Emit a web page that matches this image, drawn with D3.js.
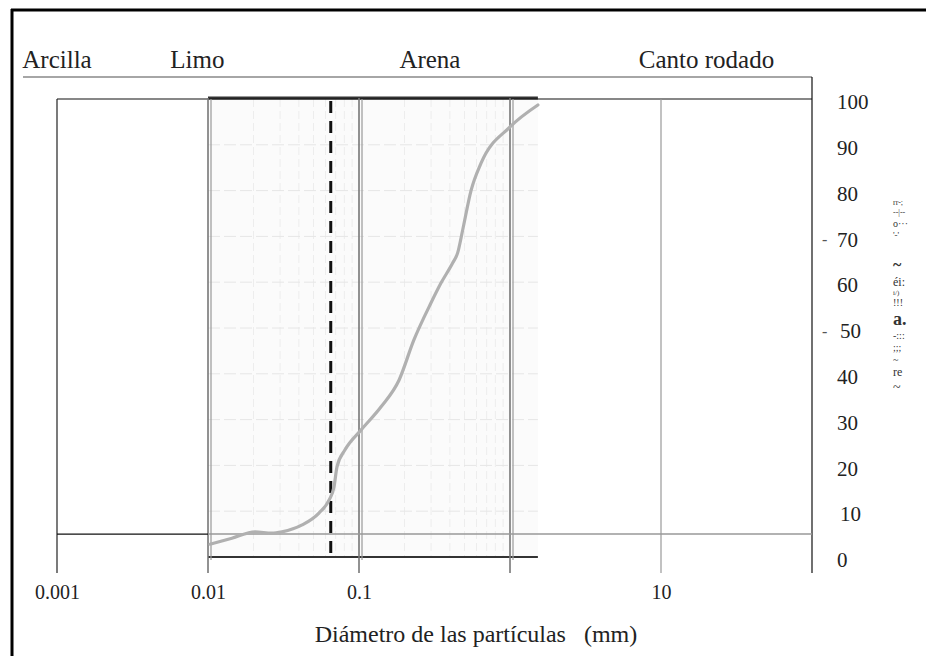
<!DOCTYPE html>
<html>
<head>
<meta charset="utf-8">
<script src="https://cdn.jsdelivr.net/npm/d3@7"></script>
<style>
  body { margin: 0; background: #fff; }
  svg { display: block; font-family: "Liberation Serif", "Times New Roman", serif; }
</style>
</head>
<body>
<div id="viz"></div>
<script>
// Size classes written across the top (centre of each name, in mm)
const classNames = ["Arcilla", "Limo", "Arena", "Canto rodado"];
const classCentres = [0.001, 0.0085, 0.295, 20];

// Log x axis (mm)
const decadeLines = [0.001, 0.01, 0.1, 1, 10, 100];
const xTickValues = [0.001, 0.01, 0.1, 10];
const xTickLabels = ["0.001", "0.01", "0.1", "10"];

// Right-hand percent axis
const yTickValues = [0, 10, 20, 30, 40, 50, 60, 70, 80, 90, 100];
const dashedTicks = [70, 50];

// Grading curve: diameter (mm) vs percent passing
const diameter = [0.0103, 0.0144, 0.0205, 0.0265, 0.0309, 0.042, 0.0543, 0.0633, 0.0683, 0.0715,
  0.0808, 0.103, 0.14, 0.184, 0.231, 0.3, 0.349, 0.417, 0.45, 0.486, 0.553, 0.643, 1.0, 1.53];
const passing = [2.8, 4.1, 5.5, 5.2, 5.5, 7.0, 9.6, 12.4, 15.3, 19.7,
  23.4, 27.7, 32.8, 38.6, 47.4, 55.5, 59.8, 64.2, 66.4, 71.4, 80.1, 86.0, 93.9, 98.7];

const dashedDiameter = 0.065;      // vertical dashed marker
const insetExtent = [0.01, 1.53];  // scanned graph strip
const baseLinePercent = 5;

// Scanned-in side label (kept as read)
const sideText = ["rr-;", "--|--", "o···", "'-'", "~", "éi:", "i/)", "!!!", "a.", "-:::", ";;;", "~", "re", "~"];
const sidePercent = [77.3, 75.1, 72.7, 70.3, 63.8, 60.0, 57.6, 55.5, 51.9, 48.3, 45.6, 43.0, 40.2, 36.9];
const sideSize = [8, 8, 10, 9, 16, 12, 7, 10, 18, 10, 10, 10, 12, 14];

const W = 926, H = 656;

const svg = d3.select("#viz").append("svg")
  .attr("width", W).attr("height", H)
  .attr("viewBox", `0 0 ${W} ${H}`);

const x = d3.scaleLog().domain([0.001, 100]).range([57, 812]);
const y = d3.scaleLinear().domain([0, 100]).range([557, 99]);

const lineBottom = 573;

// outer frame (top and left)
svg.append("line").attr("x1", 11).attr("x2", W).attr("y1", 10).attr("y2", 10)
  .attr("stroke", "#000").attr("stroke-width", 3);
svg.append("line").attr("x1", 12).attr("x2", 12).attr("y1", 9).attr("y2", H)
  .attr("stroke", "#000").attr("stroke-width", 3);

// class names
svg.append("g").selectAll("text")
  .data(classNames)
  .join("text")
  .attr("x", (d, i) => x(classCentres[i]))
  .attr("y", 68)
  .attr("text-anchor", "middle")
  .attr("font-size", 25)
  .attr("fill", "#222")
  .text(d => d);

// header rule + right frame
svg.append("line").attr("x1", 23).attr("x2", x(100)).attr("y1", 77).attr("y2", 77)
  .attr("stroke", "#888").attr("stroke-width", 1.5);
svg.append("line").attr("x1", x(100)).attr("x2", x(100)).attr("y1", 77).attr("y2", lineBottom)
  .attr("stroke", "#111").attr("stroke-width", 1.2);

// inset (scanned graph)
const inset = svg.append("g");
inset.append("rect")
  .attr("x", x(insetExtent[0])).attr("y", y(100))
  .attr("width", x(insetExtent[1]) - x(insetExtent[0]))
  .attr("height", y(0) - y(100))
  .attr("fill", "#fbfbfb");

// faint grid inside the inset
const minorDiameters = [];
[0.01, 0.1, 1].forEach(dec => {
  for (let k = 2; k <= 9; k++) if (dec * k <= insetExtent[1]) minorDiameters.push(dec * k);
});
inset.selectAll("line.vgrid")
  .data(minorDiameters)
  .join("line")
  .attr("class", "vgrid")
  .attr("x1", d => x(d)).attr("x2", d => x(d))
  .attr("y1", y(100)).attr("y2", y(0))
  .attr("stroke", "#ededed").attr("stroke-width", 1)
  .attr("stroke-dasharray", "8,4");
inset.selectAll("line.hgrid")
  .data(yTickValues.filter(v => v > 0 && v < 100))
  .join("line")
  .attr("class", "hgrid")
  .attr("x1", x(insetExtent[0])).attr("x2", x(insetExtent[1]))
  .attr("y1", d => y(d)).attr("y2", d => y(d))
  .attr("stroke", "#e6e6e6").attr("stroke-width", 1)
  .attr("stroke-dasharray", "12,4");

// main box top line
svg.append("line").attr("x1", x(0.001)).attr("x2", x(100)).attr("y1", y(100)).attr("y2", y(100))
  .attr("stroke", "#111").attr("stroke-width", 1.2);

// decade verticals
svg.append("line").attr("x1", x(0.001)).attr("x2", x(0.001)).attr("y1", y(100)).attr("y2", lineBottom)
  .attr("stroke", "#222").attr("stroke-width", 1.2);
svg.append("line").attr("x1", x(10)).attr("x2", x(10)).attr("y1", y(100)).attr("y2", lineBottom)
  .attr("stroke", "#999").attr("stroke-width", 1.2);
const doubled = decadeLines.filter(d => d >= 0.01 && d <= 1);
svg.selectAll("line.dec")
  .data(doubled)
  .join("line")
  .attr("class", "dec")
  .attr("x1", d => x(d)).attr("x2", d => x(d))
  .attr("y1", y(100) - 1).attr("y2", lineBottom)
  .attr("stroke", "#777").attr("stroke-width", 1.6);
svg.selectAll("line.dec2")
  .data(doubled)
  .join("line")
  .attr("class", "dec2")
  .attr("x1", d => x(d) + 3).attr("x2", d => x(d) + 3)
  .attr("y1", y(100)).attr("y2", y(0) + 3)
  .attr("stroke", "#999").attr("stroke-width", 1.2);

// inset top / bottom heavy lines
inset.append("line")
  .attr("x1", x(insetExtent[0])).attr("x2", x(insetExtent[1]))
  .attr("y1", y(100) - 1).attr("y2", y(100) - 1)
  .attr("stroke", "#333").attr("stroke-width", 3);
inset.append("line")
  .attr("x1", x(insetExtent[0])).attr("x2", x(insetExtent[1]))
  .attr("y1", y(0)).attr("y2", y(0))
  .attr("stroke", "#333").attr("stroke-width", 2.2);

// base line near 5 %
svg.append("line").attr("x1", x(0.001)).attr("x2", x(0.01)).attr("y1", y(baseLinePercent)).attr("y2", y(baseLinePercent))
  .attr("stroke", "#111").attr("stroke-width", 1.2);
svg.append("line").attr("x1", x(0.01)).attr("x2", x(100)).attr("y1", y(baseLinePercent)).attr("y2", y(baseLinePercent))
  .attr("stroke", "#999").attr("stroke-width", 1.5);

// dashed marker
svg.append("line")
  .attr("x1", x(dashedDiameter)).attr("x2", x(dashedDiameter))
  .attr("y1", y(100) + 2).attr("y2", y(0))
  .attr("stroke", "#111").attr("stroke-width", 3)
  .attr("stroke-dasharray", "12,8");

// grading curve
const pts = diameter.map((d, i) => [d, passing[i]]);
svg.append("path")
  .datum(pts)
  .attr("fill", "none")
  .attr("stroke", "#b0b0b0")
  .attr("stroke-width", 3.2)
  .attr("stroke-linecap", "round")
  .attr("d", d3.line().x(d => x(d[0])).y(d => y(d[1])).curve(d3.curveMonotoneX));

// x tick labels
const xAxis = d3.axisBottom(x)
  .tickValues(xTickValues)
  .tickSize(0)
  .tickPadding(12)
  .tickFormat((d, i) => xTickLabels[i]);
const gx = svg.append("g").attr("transform", `translate(0,${lineBottom})`).call(xAxis);
gx.select(".domain").remove();
gx.selectAll("text")
  .attr("font-family", "Liberation Serif, serif")
  .attr("font-size", 20)
  .attr("fill", "#222");

// x title
svg.append("text")
  .attr("x", 476).attr("y", 642)
  .attr("text-anchor", "middle")
  .attr("font-size", 24)
  .attr("fill", "#222")
  .style("white-space", "pre")
  .text("Diámetro de las partículas   (mm)");

// y tick labels on the right
const yAxis = d3.axisRight(y)
  .tickValues(yTickValues)
  .tickSize(0)
  .tickPadding(0);
const gy = svg.append("g").attr("transform", "translate(837,3)").call(yAxis);
gy.select(".domain").remove();
gy.selectAll("text")
  .attr("font-family", "Liberation Serif, serif")
  .attr("font-size", 21)
  .attr("fill", "#222")
  .attr("x", d => (d === 10 || d === 50 ? 3 : 0));

svg.selectAll("text.ydash")
  .data(dashedTicks)
  .join("text")
  .attr("class", "ydash")
  .attr("x", 822).attr("y", d => y(d) + 9)
  .attr("font-size", 16)
  .attr("fill", "#555")
  .text("-");

// garbled rotated side label
svg.selectAll("text.side")
  .data(sideText)
  .join("text")
  .attr("class", "side")
  .attr("x", 893)
  .attr("y", (d, i) => y(sidePercent[i]) + sideSize[i] * 0.3)
  .attr("font-size", (d, i) => sideSize[i])
  .attr("font-weight", (d, i) => (sideSize[i] >= 16 ? "bold" : "normal"))
  .attr("fill", "#333")
  .text(d => d);
</script>
</body>
</html>
